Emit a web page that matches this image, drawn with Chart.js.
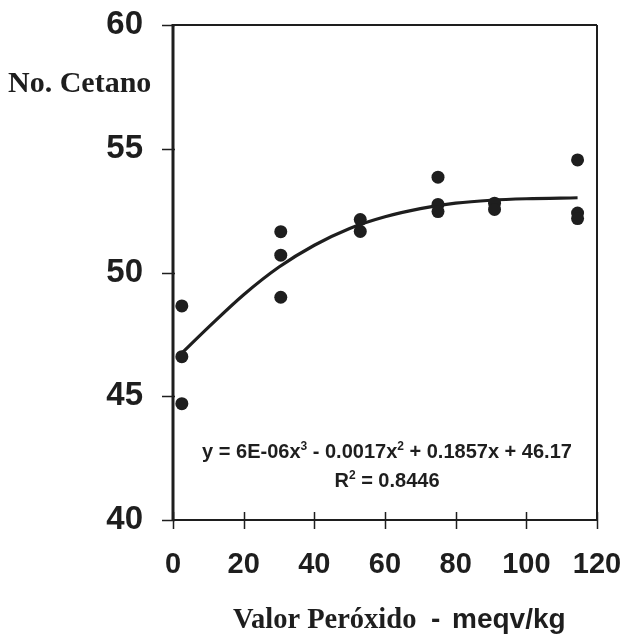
<!DOCTYPE html>
<html>
<head>
<meta charset="utf-8">
<script src="https://cdn.jsdelivr.net/npm/chart.js@4.4.1/dist/chart.umd.min.js"></script>
<style>
  html, body { margin: 0; padding: 0; background: #fff; }
  #wrap { width: 626px; height: 639px; position: relative; }
</style>
</head>
<body>
<div id="wrap"><canvas id="c"></canvas></div>
<script>
// Measured data points (Valor Peróxido, No. Cetano)
const pointX = [2.5, 2.5, 2.5, 30.5, 30.5, 30.5, 53, 53, 75, 75, 75, 91, 91, 114.5, 114.5, 114.5];
const pointY = [48.65, 46.6, 44.7, 51.65, 50.7, 49.0, 52.14, 51.66, 53.85, 52.75, 52.46, 52.8, 52.55, 54.55, 52.4, 52.18];

// Trend line
const curveX = [2, 10, 20, 30, 40, 50, 60, 70, 80, 90, 100, 114.5];
const curveY = [46.67, 47.78, 49.1, 50.22, 51.1, 51.78, 52.25, 52.58, 52.8, 52.92, 52.98, 53.02];

const xTicks = [0, 20, 40, 60, 80, 100, 120];
const yTicks = [40, 45, 50, 55, 60];

const yTitle = 'No. Cetano';
const xTitleSerif = 'Valor Peróxido';
const xTitleDash = '-';
const xTitleUnit = 'meqv/kg';
const eqParts = [['y = 6E-06x', false], ['3', true], [' - 0.0017x', false], ['2', true], [' + 0.1857x + 46.17', false]];
const r2Parts = [['R', false], ['2', true], [' = 0.8446', false]];

const INK = '#1e1e1e';

function drawParts(ctx, parts, cx, baseline, size) {
  const fontN = 'bold ' + size + 'px "Liberation Sans", Arial, sans-serif';
  const fontS = 'bold ' + Math.round(size * 0.62) + 'px "Liberation Sans", Arial, sans-serif';
  let total = 0;
  parts.forEach(([t, sup]) => { ctx.font = sup ? fontS : fontN; total += ctx.measureText(t).width; });
  let x = cx - total / 2;
  ctx.textAlign = 'left';
  ctx.textBaseline = 'alphabetic';
  parts.forEach(([t, sup]) => {
    ctx.font = sup ? fontS : fontN;
    ctx.fillText(t, x, sup ? baseline - size * 0.42 : baseline);
    x += ctx.measureText(t).width;
  });
}

const decor = {
  id: 'decor',
  afterDraw(chart) {
    const ctx = chart.ctx;
    const a = chart.chartArea;
    const xs = chart.scales.x, ys = chart.scales.y;
    ctx.save();
    ctx.strokeStyle = INK;
    ctx.fillStyle = INK;
    // frame
    ctx.lineWidth = 2;
    ctx.beginPath();
    ctx.moveTo(a.left, a.top); ctx.lineTo(a.right, a.top);
    ctx.moveTo(a.right, a.top); ctx.lineTo(a.right, a.bottom);
    ctx.moveTo(a.left, a.bottom); ctx.lineTo(a.right, a.bottom);
    ctx.stroke();
    ctx.lineWidth = 3;
    ctx.beginPath();
    ctx.moveTo(a.left, a.top - 1); ctx.lineTo(a.left, a.bottom + 1);
    ctx.stroke();
    // ticks
    ctx.lineWidth = 1.5;
    ctx.beginPath();
    xTicks.forEach(v => {
      const px = Math.round(xs.getPixelForValue(v)) + 0.5;
      ctx.moveTo(px, a.bottom - 8); ctx.lineTo(px, a.bottom + 9);
    });
    yTicks.forEach(v => {
      const py = Math.round(ys.getPixelForValue(v)) + 0.5;
      ctx.moveTo(a.left - 11, py); ctx.lineTo(a.left + 2, py);
    });
    ctx.stroke();
    // y title
    ctx.font = 'bold 30px "Liberation Serif", "Times New Roman", serif';
    ctx.textAlign = 'left';
    ctx.textBaseline = 'alphabetic';
    ctx.fillText(yTitle, 8, 92);
    // x title
    ctx.font = 'bold 28.5px "Liberation Serif", "Times New Roman", serif';
    ctx.fillText(xTitleSerif, 233, 628);
    ctx.font = 'bold 28px "Liberation Sans", Arial, sans-serif';
    ctx.fillText(xTitleDash, 431, 628);
    ctx.fillText(xTitleUnit, 452, 628);
    // equation
    drawParts(ctx, eqParts, 387, 458, 20);
    drawParts(ctx, r2Parts, 387, 487, 20);
    ctx.restore();
  }
};

new Chart(document.getElementById('c'), {
  type: 'scatter',
  data: {
    datasets: [
      {
        label: 'Tendencia',
        data: curveX.map((x, i) => ({ x, y: curveY[i] })),
        showLine: true,
        borderColor: INK,
        borderWidth: 3.2,
        pointRadius: 0,
        cubicInterpolationMode: 'monotone',
        fill: false,
        order: 2
      },
      {
        label: 'No. Cetano',
        data: pointX.map((x, i) => ({ x, y: pointY[i] })),
        backgroundColor: INK,
        borderColor: INK,
        borderWidth: 0,
        pointRadius: 6.5,
        order: 1
      }
    ]
  },
  options: {
    responsive: true,
    maintainAspectRatio: false,
    animation: false,
    events: [],
    layout: { padding: { top: 25, right: 29, left: 0, bottom: 0 } },
    plugins: { legend: { display: false }, tooltip: { enabled: false } },
    scales: {
      x: {
        type: 'linear', min: 0, max: 120,
        afterBuildTicks(s) { s.ticks = xTicks.map(v => ({ value: v })); },
        afterFit(s) { s.height = 119; s.paddingLeft = 0; s.paddingRight = 0; },
        grid: { display: false, drawTicks: false },
        border: { display: false },
        ticks: {
          padding: 28,
          color: INK,
          font: { family: '"Liberation Sans", Arial, sans-serif', size: 29, weight: 'bold' },
          maxRotation: 0
        }
      },
      y: {
        type: 'linear', min: 40, max: 60,
        afterBuildTicks(s) { s.ticks = yTicks.map(v => ({ value: v })); },
        afterFit(s) { s.width = 173; s.paddingTop = 0; s.paddingBottom = 0; },
        grid: { display: false, drawTicks: false },
        border: { display: false },
        ticks: {
          padding: 30,
          color: INK,
          font: { family: '"Liberation Sans", Arial, sans-serif', size: 33, weight: 'bold' }
        }
      }
    }
  },
  plugins: [decor]
});
</script>
</body>
</html>
